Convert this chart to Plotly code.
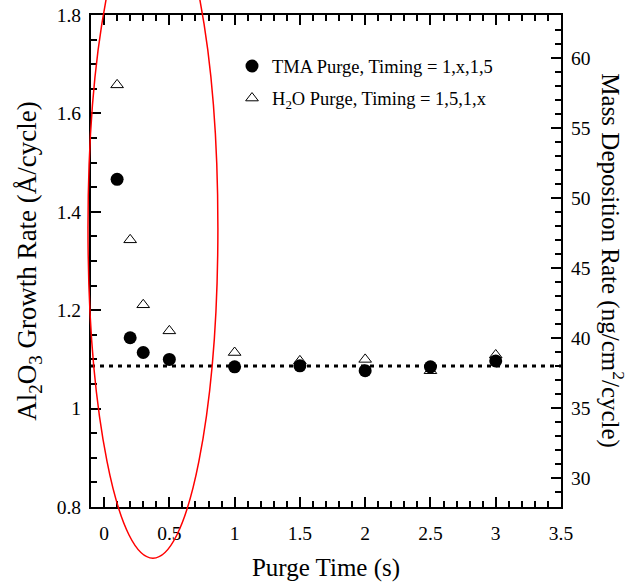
import plotly.graph_objects as go

# Data
purge_time = [0.1, 0.2, 0.3, 0.5, 1.0, 1.5, 2.0, 2.5, 3.0]
tma_growth = [1.466, 1.144, 1.114, 1.100, 1.085, 1.087, 1.077, 1.085, 1.097]
h2o_growth = [1.658, 1.343, 1.211, 1.158, 1.114, 1.097, 1.100, 1.077, 1.109]
ref_mass_rate = 38.0  # ng/cm^2/cycle, dotted reference line
x_span = [-0.1, 3.5]

x_ticks = [0, 0.5, 1, 1.5, 2, 2.5, 3, 3.5]
x_tick_labels = ["0", "0.5", "1", "1.5", "2", "2.5", "3", "3.5"]
y_ticks = [0.8, 1.0, 1.2, 1.4, 1.6, 1.8]
y_tick_labels = ["0.8", "1", "1.2", "1.4", "1.6", "1.8"]
y2_ticks = [30, 35, 40, 45, 50, 55, 60]

FONT = "Liberation Serif, Times New Roman, serif"

fig = go.Figure()
fig.add_trace(go.Scatter(
    x=x_span, y=[ref_mass_rate, ref_mass_rate], yaxis="y2", mode="lines",
    line=dict(color="black", width=3, dash="4px,5px"), showlegend=False,
    hoverinfo="skip"))
fig.add_trace(go.Scatter(
    x=purge_time, y=tma_growth, mode="markers", legendgroup="a",
    name="TMA Purge, Timing = 1,x,1,5",
    marker=dict(symbol="circle", size=13, color="black")))
fig.add_trace(go.Scatter(
    x=purge_time, y=h2o_growth, mode="markers", legendgroup="b",
    name="H<sub>2</sub>O Purge, Timing = 1,5,1,x",
    marker=dict(symbol="triangle-up-open", size=11, color="black",
                line=dict(width=1, color="black"))))

axis_common = dict(showline=True, linecolor="black", linewidth=2,
                   ticks="inside", tickcolor="black", tickwidth=1.5,
                   ticklen=10, showgrid=False, zeroline=False,
                   automargin=False,
                   tickfont=dict(family=FONT, size=19.5, color="black"))

fig.update_layout(
    width=628, height=584,
    margin=dict(l=91, r=67, t=15, b=77),
    paper_bgcolor="white", plot_bgcolor="white",
    font=dict(family=FONT, color="black"),
    xaxis=dict(range=x_span, tickvals=x_ticks, ticktext=x_tick_labels,
               mirror="ticks", ticklabelstandoff=8,
               minor=dict(dtick=0.1, tick0=0, ticks="inside", ticklen=6,
                          tickcolor="black", tickwidth=1.5),
               title=dict(text="Purge Time (s)",
                          font=dict(family=FONT, size=25), standoff=15),
               **axis_common),
    yaxis=dict(range=[0.8, 1.8], tickvals=y_ticks, ticktext=y_tick_labels,
               ticklabelstandoff=4,
               minor=dict(dtick=0.05, tick0=0.8, ticks="inside", ticklen=6,
                          tickcolor="black", tickwidth=1.5),
               title=dict(text="Al<sub>2</sub>O<sub>3</sub> Growth Rate (Å/cycle)",
                          font=dict(family=FONT, size=27), standoff=12),
               **axis_common),
    yaxis2=dict(range=[27.93, 63.07], tickvals=y2_ticks, overlaying="y",
                side="right", ticklabelstandoff=4,
                minor=dict(dtick=1, tick0=30, ticks="inside", ticklen=6,
                           tickcolor="black", tickwidth=1.5),
                **axis_common),
    legend=dict(x=0.3, y=0.934, xanchor="left", yanchor="top",
                bgcolor="rgba(0,0,0,0)", traceorder="grouped",
                tracegroupgap=5,
                font=dict(family=FONT, size=18.5, color="black")),
    annotations=[dict(
        text="Mass Deposition Rate (ng/cm<sup>2</sup>/cycle)",
        textangle=90, xref="paper", yref="paper", x=1.11, y=0.5,
        xanchor="center", yanchor="middle", showarrow=False,
        font=dict(family=FONT, size=25, color="black"))],
    shapes=[dict(type="circle", xref="paper", yref="paper",
                 x0=-0.0064, x1=0.270, y0=-0.104, y1=1.238,
                 line=dict(color="red", width=1.5), layer="above")],
)

fig.write_html("out.html")
